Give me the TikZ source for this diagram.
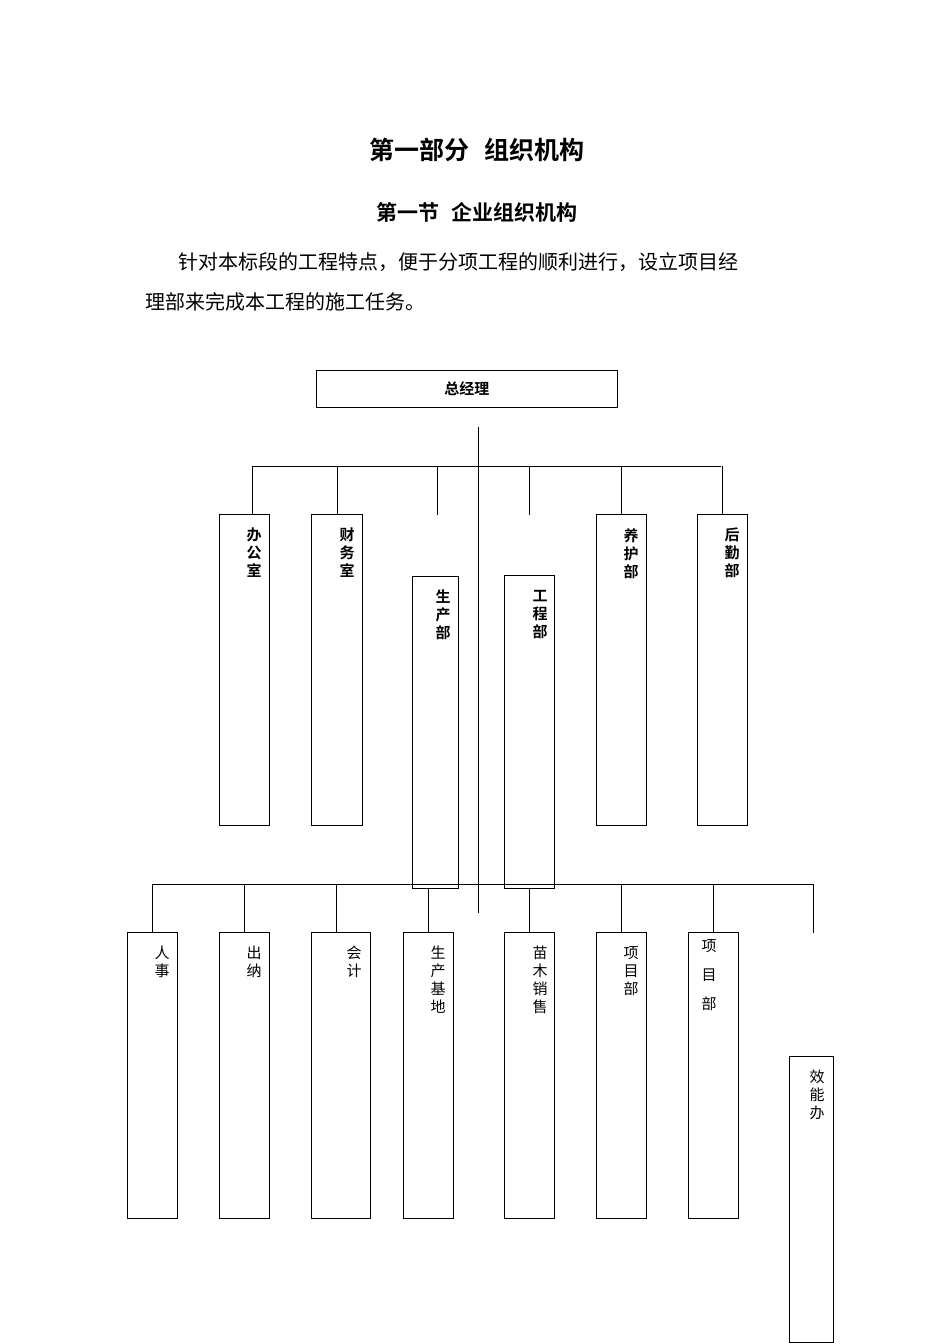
\documentclass[tikz,border=0pt]{standalone}
\usepackage{fontspec}
\newfontfamily\cjk{Noto Sans CJK SC}
\newfontfamily\cjkb{Noto Sans CJK SC Bold}
\begin{document}
\begin{tikzpicture}[x=1pt,y=-1pt,
  box/.style={draw,line width=0.9pt,anchor=north west,inner sep=0pt},
  lab/.style={anchor=north,align=center,inner sep=0pt,font=\cjk\fontsize{15}{18}\selectfont},
  blab/.style={anchor=north,align=center,inner sep=0pt,font=\cjkb\fontsize{15}{18}\selectfont},
  ln/.style={line width=0.9pt}]
\useasboundingbox (0,0) rectangle (950,1344);
\node[font=\cjkb\fontsize{25}{28}\selectfont] (t1) at (477,150) {第一部分\hspace{0.6em}组织机构};
\node[font=\cjkb\fontsize{21}{24}\selectfont] (t2) at (477,212) {第一节\hspace{0.6em}企业组织机构};
\node[anchor=west,inner sep=0pt,font=\cjk\fontsize{20}{24}\selectfont] (p1) at (178,262) {针对本标段的工程特点，便于分项工程的顺利进行，设立项目经};
\node[anchor=west,inner sep=0pt,font=\cjk\fontsize{20}{24}\selectfont] (p2) at (145,302) {理部来完成本工程的施工任务。};
% top
\node[box,minimum width=301pt,minimum height=37pt] (zjl) at (316,370) {};
\node[blab] at (zjl.center) [anchor=center] {总经理};
\coordinate (vt) at (478,427); \coordinate (vb) at (478,913);
\draw[ln] (vt) -- (vb);
\coordinate (bl) at (252,466); \coordinate (br) at (721,466);
\draw[ln] (bl) -- (br);
\node[box,minimum width=50pt,minimum height=311pt] (bgs) at (219,514) {};
\node[box,minimum width=51pt,minimum height=311pt] (cws) at (311,514) {};
\node[box,minimum width=46pt,minimum height=312pt] (scb) at (412,576) {};
\node[box,minimum width=50pt,minimum height=313pt] (gcb) at (504,575) {};
\node[box,minimum width=50pt,minimum height=311pt] (yhb) at (596,514) {};
\node[box,minimum width=50pt,minimum height=311pt] (hqb) at (697,514) {};
\node[blab] at (254,528) {办\\公\\室};
\node[blab] at (347,528) {财\\务\\室};
\node[blab] at (443,590) {生\\产\\部};
\node[blab] at (540,590) {工\\程\\部};
\node[blab] at (631,528) {养\\护\\部};
\node[blab] at (732,528) {后\\勤\\部};
\draw[ln] (bgs.north -| bl) -- (bl);
\draw[ln] (cws.north) ++(0,0) coordinate (c2) (c2) -- (c2 |- bl);
\coordinate (f1) at (437,515); \coordinate (f2) at (529,515);
\draw[ln] (f1) -- (f1 |- bl);
\draw[ln] (f2) -- (f2 |- bl);
\draw[ln] (yhb.north) -- (yhb.north |- bl);
\draw[ln] (hqb.north) -- (hqb.north |- bl);
% bottom
\coordinate (ll) at (152,884); \coordinate (lr) at (813,884);
\draw[ln] (ll) -- (lr);
\node[box,minimum width=50pt,minimum height=286pt] (rs) at (127,932) {};
\node[box,minimum width=50pt,minimum height=286pt] (cn) at (219,932) {};
\node[box,minimum width=59pt,minimum height=286pt] (kj) at (311,932) {};
\node[box,minimum width=50pt,minimum height=286pt] (scjd) at (403,932) {};
\node[box,minimum width=50pt,minimum height=286pt] (mmxs) at (504,932) {};
\node[box,minimum width=50pt,minimum height=286pt] (xmb1) at (596,932) {};
\node[box,minimum width=50pt,minimum height=286pt] (xmb2) at (688,932) {};
\node[box,minimum width=44pt,minimum height=286pt] (xnb) at (789,1056) {};
\node[lab] at (162,946) {人\\事};
\node[lab] at (254,946) {出\\纳};
\node[lab] at (354,946) {会\\计};
\node[lab] at (438,946) {生\\产\\基\\地};
\node[lab] at (540,946) {苗\\木\\销\\售};
\node[lab] at (631,946) {项\\目\\部};
\node[lab,font=\cjk\fontsize{15}{29}\selectfont] at (709,939) {项\\目\\部};
\node[lab] at (817,1070) {效\\能\\办};
\coordinate (d1) at (152,932); \coordinate (d2) at (244,932); \coordinate (d3) at (336,932);
\coordinate (d4) at (428,888); \coordinate (d5) at (529,888); \coordinate (d6) at (621,932);
\coordinate (d7) at (713,932); \coordinate (d8) at (813,933);
\draw[ln] (ll) -- (d1);
\foreach \d in {d2,d3,d6,d7}{\draw[ln] (\d) -- (\d |- ll);}
\draw[ln] (d4) -- (d4 |- scjd.north);
\draw[ln] (d5) -- (d5 |- mmxs.north);
\draw[ln] (lr) -- (d8);
\end{tikzpicture}
\end{document}
